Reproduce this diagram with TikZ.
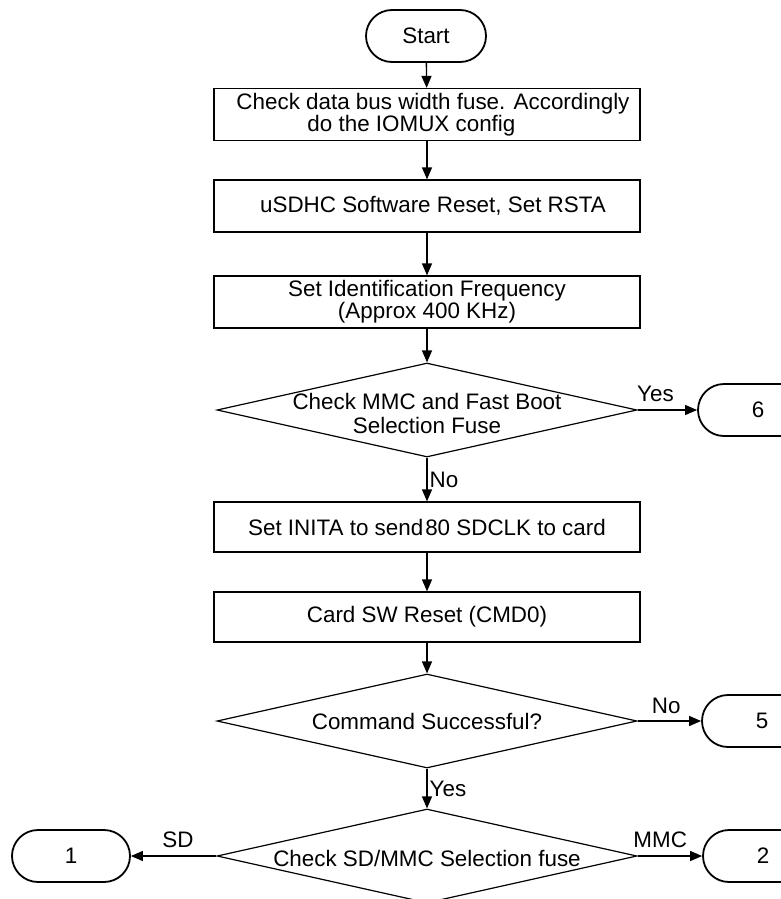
\documentclass[tikz,border=0pt]{standalone}
\usepackage{fontspec}
\setmainfont{Liberation Sans}
\usetikzlibrary{arrows.meta,shapes.geometric,shapes.misc}
\begin{document}
\begin{tikzpicture}[x=1pt,y=-1pt,
  font=\fontsize{22.4pt}{22pt}\selectfont,
  term/.style={draw, rounded rectangle, line width=1.8pt, minimum width=120pt, minimum height=52pt, inner sep=0pt},
  procbox/.style={draw, rectangle, line width=1.2pt, minimum width=426pt, minimum height=52pt, inner sep=0pt, align=center},
  decide/.style={draw, diamond, line width=1.2pt, minimum width=420pt, minimum height=94pt, inner sep=0pt},
  arr/.style={-{Triangle[length=12pt,width=10pt]}, line width=1.3pt},
  lbl/.style={inner sep=2pt}
]
\path[use as bounding box] (0,0) rectangle (781,899);
\clip (0,0) rectangle (781,899);

\node[term] (start) at (426,36) {Start};
\node[procbox, align=left] (b1) at (427,114.5) {\hspace*{12pt}Check data bus width fuse. Accordingly\\\hspace*{83pt}do the IOMUX config};
\node[procbox] (b2) at (427,206) {\hspace*{12pt}uSDHC Software Reset, Set RSTA};
\node[procbox] (b3) at (427,302) {Set Identification Frequency\\(Approx 400 KHz)};
\node[decide, label={[align=center, yshift=-3pt, font=\fontsize{22.4pt}{24pt}\selectfont]center:Check MMC and Fast Boot\\Selection Fuse}] (d1) at (427,410) {};
\node[term] (t6) at (758,410) {6};
\node[procbox, minimum height=50pt] (b4) at (427,527) {Set INITA to send\kern2pt 80 SDCLK to card};
\node[procbox, minimum height=50pt] (b5) at (427,617) {Card SW Reset (CMD0)};
\node[decide, label={center:Command Successful?}] (d2) at (427,721) {};
\node[term] (t5) at (762,721) {5};
\node[decide, label={[yshift=-2pt]center:Check SD/MMC Selection fuse}] (d3) at (427,856) {};
\node[term, minimum width=118pt] (t1) at (71,856) {1};
\node[term] (t2) at (763,856) {2};

\draw[arr] (start) -- (b1);
\draw[arr] (b1) -- (b2);
\draw[arr] (b2) -- (b3);
\draw[arr] (b3) -- (d1);
\draw[arr] (d1.east) -- node[lbl, above=6pt, pos=0.3] {Yes} (t6.west);
\draw[arr] (d1.south) -- node[lbl, right, pos=0.5] {No} (b4);
\draw[arr] (b4) -- (b5);
\draw[arr] (b5) -- (d2);
\draw[arr] (d2.east) -- node[lbl, above=5pt, pos=0.45] {No} (t5.west);
\draw[arr] (d2.south) -- node[lbl, right, pos=0.5] {Yes} (d3.north);
\draw[arr] (d3.west) -- node[lbl, above=6pt, pos=0.45] {SD} (t1.east);
\draw[arr] (d3.east) -- node[lbl, above=6pt, pos=0.35] {MMC} (t2.west);
\end{tikzpicture}
\end{document}
